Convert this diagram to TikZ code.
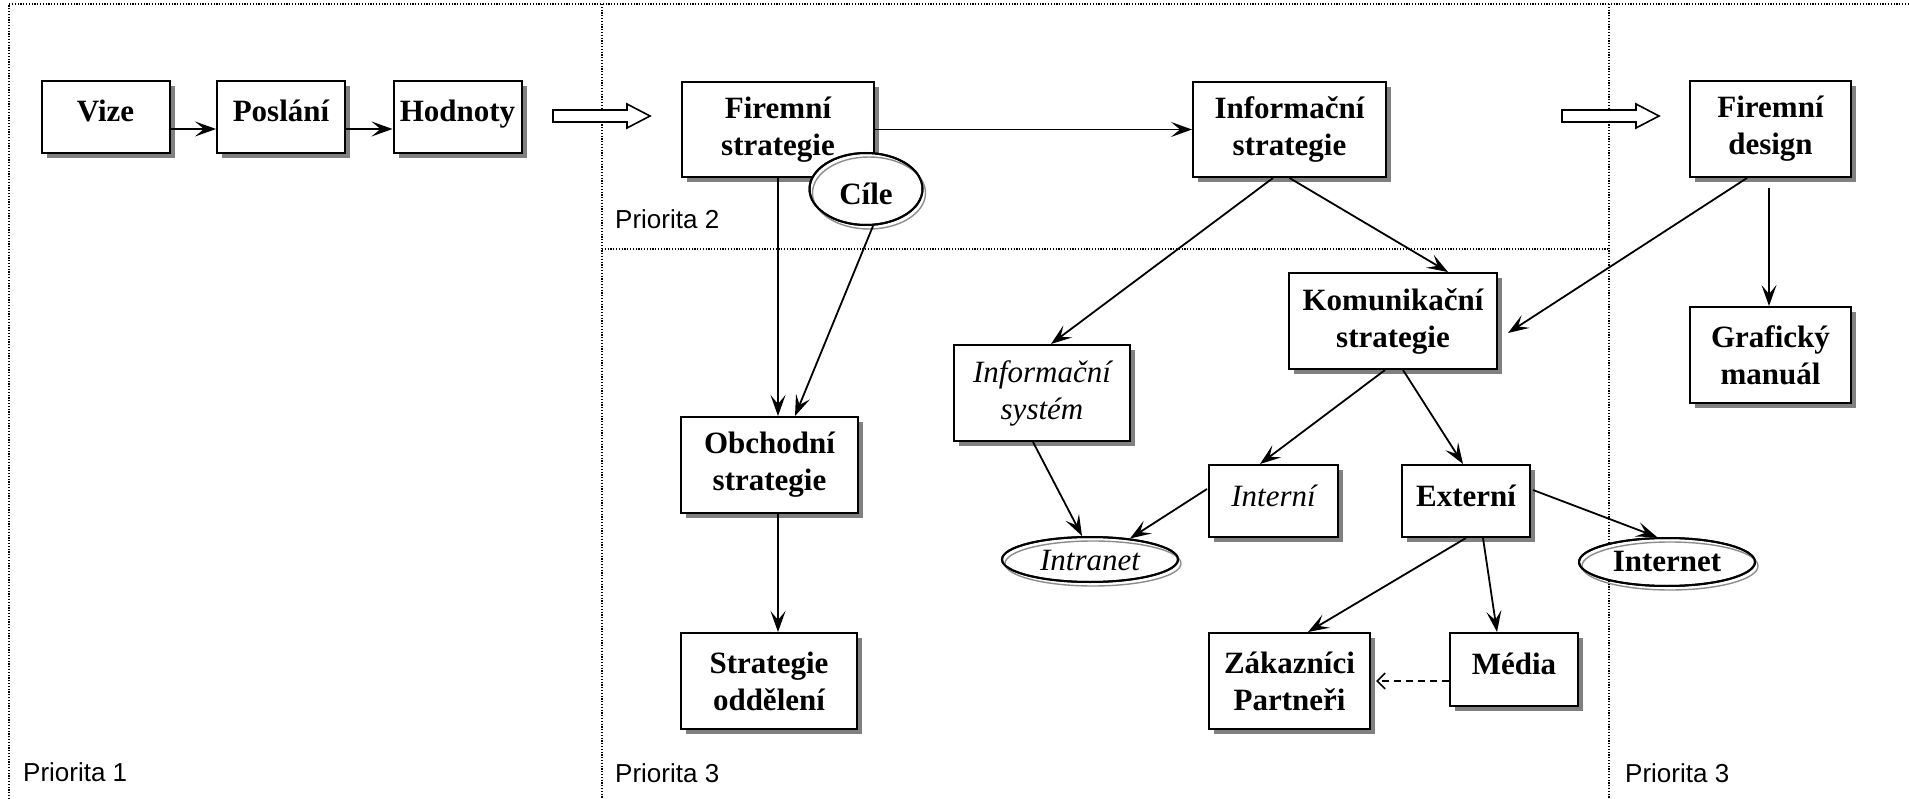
\documentclass[tikz,border=0pt]{standalone}
\usepackage{fontspec}
\setmainfont{Liberation Serif}
\newfontfamily\prifont{Liberation Sans}
\usetikzlibrary{arrows.meta,shapes.geometric,shadows,calc}
\begin{document}
\begin{tikzpicture}[x=1pt,y=-1pt,
  box/.style={draw, line width=2pt, fill=white, inner sep=0pt, align=center,
    font=\fontsize{31}{37}\selectfont\bfseries,
    general shadow={fill=black!50, shadow xshift=5pt, shadow yshift=-5pt}},
  itbox/.style={box, font=\fontsize{31}{37}\selectfont\itshape},
  oneline/.style={text height=22pt, text depth=12pt},
  ell/.style={ellipse, draw, line width=2pt, fill=white, inner sep=0pt,
    font=\fontsize{31}{37}\selectfont\bfseries},
  ring/.style={draw=black!45, line width=1.4pt},
  blackring/.style={draw=black, line width=2pt},
  conn/.style={line width=1.8pt, -{Stealth[length=21pt, width=15pt, inset=9pt]}},
  dconn/.style={line width=1.6pt, dash pattern=on 7pt off 5pt, -{Straight Barb[length=8pt, width=16pt]}},
  dotline/.style={line width=1.2pt, dash pattern=on 1.2pt off 1.6pt},
  hollow/.style={draw, line width=1.6pt, fill=white},
  pri/.style={font=\prifont\fontsize{26}{30}\selectfont, anchor=base west, inner sep=0pt}
]
\useasboundingbox (0,0) rectangle (1909,799);

% frame and dividers
\draw[dotline] (9,799) -- (9,4) -- (1909,4);
\draw[dotline] (602,4) -- (602,799);
\draw[dotline] (1609,4) -- (1609,799);
\draw[dotline] (602,249) -- (1609,249);

% labels
\node[pri] (p1) at (23,781) {Priorita 1};
\node[pri] (p2) at (615,229) {Priorita 2};
\node[pri] (p3a) at (615,782) {Priorita 3};
\node[pri] (p3b) at (1625,782) {Priorita 3};

% hollow arrows
\draw[hollow] (553,110) -- (627,110) -- (627,104) -- (650,116) -- (627,128) -- (627,122) -- (553,122) -- cycle;
\draw[hollow] (1562,110) -- (1636,110) -- (1636,104) -- (1659,116) -- (1636,128) -- (1636,122) -- (1562,122) -- cycle;

% boxes
\node[box, oneline, minimum width=128pt, minimum height=72pt] (vize) at (105.5,117) {Vize};
\node[box, oneline, minimum width=128pt, minimum height=72pt] (posl) at (281,117) {Poslání};
\node[box, oneline, minimum width=128pt, minimum height=72pt] (hodn) at (457.5,117) {Hodnoty};
\node[box, minimum width=192pt, minimum height=95pt] (firs) at (778,129.5) {Firemní\\strategie};
\node[box, minimum width=193pt, minimum height=95pt] (infs) at (1289.5,129.5) {Informační\\strategie};
\node[box, minimum width=161pt, minimum height=96pt] (fird) at (1770.5,129) {Firemní\\design};
\node[box, minimum width=208pt, minimum height=96pt] (koms) at (1393,321) {Komunikační\\strategie};
\node[box, minimum width=161pt, minimum height=96pt] (graf) at (1770.5,355) {Grafický\\manuál};
\node[itbox, minimum width=176pt, minimum height=96pt] (insy) at (1042,393) {Informační\\systém};
\node[box, minimum width=177pt, minimum height=96pt] (obch) at (769.5,465) {Obchodní\\strategie};
\node[box, minimum width=176pt, minimum height=96pt] (stod) at (769,681) {Strategie\\oddělení};
\node[itbox, oneline, minimum width=129pt, minimum height=72pt] (inte) at (1273.5,501) {Interní};
\node[box, oneline, minimum width=128pt, minimum height=72pt] (exte) at (1466,501) {Externí};
\node[box, minimum width=161pt, minimum height=96pt] (zak) at (1289.5,681) {Zákazníci\\Partneři};
\node[box, oneline, minimum width=128pt, minimum height=73pt] (med) at (1514,669.5) {Média};

% ellipses
\node[ell, minimum width=113pt, minimum height=72pt] (cile) at (866,189) {};
\draw[ring] ($(cile.center)+(3,4)$) ellipse [x radius=56.5pt, y radius=36pt];
\draw[blackring] (cile.center) ellipse [x radius=56.5pt, y radius=36pt];
\node[font=\fontsize{31}{37}\selectfont\bfseries, inner sep=0pt] (ciletext) at (866,194) {Cíle};

\node[ell, font=\fontsize{31}{37}\selectfont\itshape, minimum width=176pt, minimum height=45pt] (intra) at (1090,559.5) {};
\draw[ring] ($(intra.center)+(3,4)$) ellipse [x radius=88pt, y radius=22.5pt];
\draw[blackring] (intra.center) ellipse [x radius=88pt, y radius=22.5pt];
\node[font=\fontsize{31}{37}\selectfont\itshape, inner sep=0pt] (intratext) at (1090,561) {Intranet};

\node[ell, minimum width=176pt, minimum height=48pt] (inter) at (1667,562) {};
\draw[ring] ($(inter.center)+(3,4)$) ellipse [x radius=88pt, y radius=24pt];
\draw[blackring] (inter.center) ellipse [x radius=88pt, y radius=24pt];
\node[font=\fontsize{31}{37}\selectfont\bfseries, inner sep=0pt] (intertext) at (1667,562) {Internet};

% connectors
\draw[conn] ($(vize.east)+(0,12)$) -- ($(posl.west)+(0,12)$);
\draw[conn] ($(posl.east)+(0,12)$) -- ($(hodn.west)+(0,12)$);
\draw[conn] (firs.east) -- (infs.west);
\draw[conn] (firs.south) -- (firs.south |- obch.north);
\draw[conn] ($(cile.south)+(7,0)$) -- ($(obch.north)+(25.5,0)$);
\draw[conn] (firs.south |- obch.south) -- (firs.south |- stod.north);
\draw[conn] ($(infs.south)+(-16.5,0)$) -- ($(insy.north)+(9,0)$);
\draw[conn] (infs.south) -- ($(koms.north)+(55,0)$);
\draw[conn] ($(fird.south)+(-23.5,0)$) -- ($(koms.east)+(10,12)$);
\draw[conn] ($(fird.south)+(-1.5,10)$) -- ($(graf.north)+(-1.5,0)$);
\draw[conn] ($(insy.south)+(-9,0)$) -- ($(intra.north)+(-8,0)$);
\draw[conn] ($(inte.west)+(-1,-12)$) -- ($(intra.center)+(40,-21)$);
\draw[conn] ($(koms.south)+(-8,0)$) -- ($(inte.north)+(-13.5,0)$);
\draw[conn] ($(koms.south)+(10,0)$) -- ($(exte.north)+(-3,0)$);
\draw[conn] ($(exte.east)+(2,-11)$) -- ($(inter.north)+(-10,0)$);
\draw[conn] (exte.south) -- ($(zak.north)+(18.5,0)$);
\draw[conn] ($(exte.south)+(17,0)$) -- ($(med.north)+(-17,0)$);
\draw[dconn] ($(med.west)+(0,11.5)$) -- ($(zak.east)+(5,0)$);
\end{tikzpicture}
\end{document}
